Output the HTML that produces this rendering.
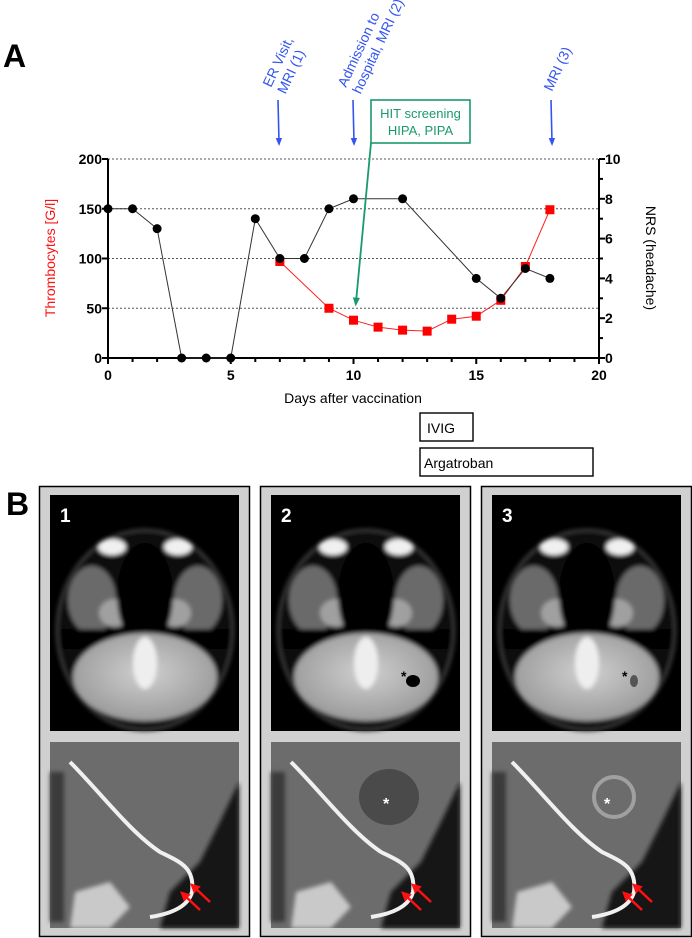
<!DOCTYPE html>
<html><head><meta charset="utf-8"><style>
html,body{margin:0;padding:0;background:#fff;}
svg{display:block;font-family:"Liberation Sans",Arial,sans-serif;}
</style></head><body>
<svg id="fig" width="692" height="938" viewBox="0 0 692 938">
<defs>
<marker id="ab" viewBox="0 0 10 10" refX="5" refY="5" markerWidth="5" markerHeight="5" orient="auto"><path d="M0,1 L10,5 L0,9 z" fill="#3355ee"/></marker>
<marker id="ag" viewBox="0 0 10 10" refX="5" refY="5" markerWidth="5" markerHeight="5" orient="auto"><path d="M0,1 L10,5 L0,9 z" fill="#1a9a6a"/></marker>
<marker id="ar" viewBox="0 0 10 10" refX="6" refY="5" markerWidth="4" markerHeight="4" orient="auto"><path d="M0,0 L10,5 L0,10 z" fill="#ff1010"/></marker>
<radialGradient id="cb" cx="50%" cy="45%" r="55%"><stop offset="0" stop-color="#d0d0d0"/><stop offset="1" stop-color="#9a9a9a"/></radialGradient>
<filter id="bl"><feGaussianBlur stdDeviation="2"/></filter>
</defs>
<text x="3" y="67" font-size="32" font-weight="bold">A</text>
<text x="6" y="515" font-size="32" font-weight="bold">B</text>
<g id="chart"></g>
<g id="annot">
  <text transform="translate(271,88) rotate(-65)" font-size="14" fill="#3355ee"><tspan x="0" y="0">ER Visit,</tspan><tspan x="0" y="16">MRI (1)</tspan></text>
  <text transform="translate(346,88) rotate(-65)" font-size="14" fill="#3355ee"><tspan x="0" y="0">Admission to</tspan><tspan x="0" y="16">hospital, MRI (2)</tspan></text>
  <text transform="translate(552,92) rotate(-65)" font-size="14" fill="#3355ee">MRI (3)</text>
  <line x1="278" y1="100" x2="279" y2="142" stroke="#3355ee" stroke-width="1.6" marker-end="url(#ab)"/>
  <line x1="353" y1="100" x2="354" y2="142" stroke="#3355ee" stroke-width="1.6" marker-end="url(#ab)"/>
  <line x1="551" y1="100" x2="552" y2="142" stroke="#3355ee" stroke-width="1.6" marker-end="url(#ab)"/>
  <rect x="371" y="100" width="99" height="43" fill="#fff" stroke="#1a9a6a" stroke-width="1.6"/>
  <text x="420.5" y="118" font-size="13" fill="#1a9a6a" text-anchor="middle">HIT screening</text>
  <text x="420.5" y="135" font-size="13" fill="#1a9a6a" text-anchor="middle">HIPA, PIPA</text>
  <line x1="371" y1="143" x2="356" y2="302" stroke="#1a9a6a" stroke-width="1.8" marker-end="url(#ag)"/>
  <rect x="420" y="413" width="53" height="28" fill="#fff" stroke="#000" stroke-width="1.4"/>
  <text x="427" y="433" font-size="14">IVIG</text>
  <rect x="420" y="448" width="173" height="28" fill="#fff" stroke="#000" stroke-width="1.4"/>
  <text x="424" y="468" font-size="14">Argatroban</text>
</g>
<g id="mri"></g>
</svg>
<script>
const days = [0,1,2,3,4,5,6,7,8,9,10,12,15,16,17,18];
const nrs = [7.5,7.5,6.5,0,0,0,7,5,5,7.5,8,8,4,3,4.5,4];
const thrDays = [7,9,10,11,12,13,14,15,16,17,18];
const thrombo = [97,50,38,31,28,27,39,42,58,92,149];
const xTicks = [0,5,10,15,20];
const leftTicks = [0,50,100,150,200];
const rightTicks = [0,2,4,6,8,10];

const NS="http://www.w3.org/2000/svg";
const X0=108,X1=599,Y0=358,Y1=159;
const xs=d=>X0+(d/20)*(X1-X0);
const yl=v=>Y0-(v/200)*(Y0-Y1);
const yr=v=>Y0-(v/10)*(Y0-Y1);
function mk(tag,attrs,parent){const e=document.createElementNS(NS,tag);for(const k in attrs)e.setAttribute(k,attrs[k]);parent.appendChild(e);return e;}
const ch=document.getElementById('chart');

leftTicks.forEach(v=>{ if(v>0){
  const g=mk('line',{x1:X0,x2:X1,y1:yl(v),y2:yl(v),stroke:'#555','stroke-width':1,'stroke-dasharray':'2,2'},ch);
  
  }
  const t=mk('line',{x1:X0-6,x2:X0,y1:yl(v),y2:yl(v),stroke:'#000','stroke-width':2},ch);
  
  
  const l=mk('text',{x:X0-6,y:yl(v)+5,'font-size':14,'font-weight':'bold','text-anchor':'end'},ch);l.textContent=v;
  
  
});
for(let v=0;v<=10;v++){
  const t=mk('line',{x1:X1,x2:X1+(v%2?4:6),y1:yr(v),y2:yr(v),stroke:'#000','stroke-width':2},ch);
  
  
}
rightTicks.forEach(v=>{
  const l=mk('text',{x:X1+6,y:yr(v)+5,'font-size':14,'font-weight':'bold'},ch);l.textContent=v;
  
  
});
for(let d=0;d<=20;d++){
  const t=mk('line',{x1:xs(d),x2:xs(d),y1:Y0,y2:Y0+(d%5?4:6),stroke:'#000','stroke-width':2},ch);
  
  
}
xTicks.forEach(v=>{
  const l=mk('text',{x:xs(v),y:Y0+22,'font-size':14,'font-weight':'bold','text-anchor':'middle'},ch);l.textContent=v;
  
  
});
let a=mk('line',{x1:X0,x2:X0,y1:Y1,y2:Y0+1,stroke:'#000','stroke-width':2},ch);


a=mk('line',{x1:X1,x2:X1,y1:Y1,y2:Y0+1,stroke:'#000','stroke-width':2},ch);


a=mk('line',{x1:X0-1,x2:X1+1,y1:Y0,y2:Y0,stroke:'#000','stroke-width':2},ch);


let tt=mk('text',{x:353,y:403,'font-size':14,'text-anchor':'middle'},ch);tt.textContent='Days after vaccination';


tt=mk('text',{transform:'translate(55,258) rotate(-90)','font-size':14,fill:'#ff1010','text-anchor':'middle'},ch);tt.textContent='Thrombocytes [G/l]';


tt=mk('text',{transform:'translate(646,258) rotate(90)','font-size':14,'text-anchor':'middle'},ch);tt.textContent='NRS (headache)';



let p=mk('polyline',{points:thrDays.map((d,i)=>xs(d)+','+yl(thrombo[i])).join(' '),fill:'none',stroke:'#ff2020','stroke-width':1},ch);


p=mk('polyline',{points:days.map((d,i)=>xs(d)+','+yr(nrs[i])).join(' '),fill:'none',stroke:'#333','stroke-width':1},ch);


thrDays.forEach((d,i)=>{
  const r=mk('rect',{x:xs(d)-4.5,y:yl(thrombo[i])-4.5,width:9,height:9,fill:'#ff0000'},ch);
  
  
});
days.forEach((d,i)=>{
  const c=mk('circle',{cx:xs(d),cy:yr(nrs[i]),r:4.5,fill:'#000'},ch);
  
  
});

// MRI panels (illustrative)
const mr=document.getElementById('mri');
[39,260,481].forEach((ox,k)=>{
  const g=mk('g',{transform:`translate(${ox},486)`},mr);
  
  
  mk('rect',{x:0.5,y:0.5,width:210,height:450,fill:'#d0d0d0',stroke:'#000','stroke-width':1.5},g);
  const t=mk('g',{transform:'translate(11,9)'},g);
  mk('rect',{x:0,y:0,width:189,height:236,fill:'#000'},t);
  const hg=mk('g',{filter:'url(#bl)'},t);
  mk('ellipse',{cx:95,cy:135,rx:88,ry:100,fill:'#080808',stroke:'#3a3a3a','stroke-width':3},hg);
  mk('ellipse',{cx:42,cy:105,rx:24,ry:34,fill:'#6a6a6a'},hg);
  mk('ellipse',{cx:148,cy:105,rx:24,ry:34,fill:'#6a6a6a'},hg);
  mk('ellipse',{cx:65,cy:118,rx:16,ry:14,fill:'#a0a0a0'},hg);
  mk('ellipse',{cx:125,cy:118,rx:16,ry:14,fill:'#a0a0a0'},hg);
  mk('ellipse',{cx:95,cy:100,rx:28,ry:52,fill:'#050505'},hg);
  mk('rect',{x:10,y:134,width:170,height:20,fill:'#060606'},hg);
  mk('ellipse',{cx:95,cy:182,rx:72,ry:44,fill:'url(#cb)'},hg);
  mk('ellipse',{cx:95,cy:168,rx:12,ry:26,fill:'#eeeeee'},hg);
  mk('ellipse',{cx:62,cy:52,rx:14,ry:8,fill:'#f0f0f0'},hg);
  mk('ellipse',{cx:128,cy:52,rx:14,ry:8,fill:'#f0f0f0'},hg);
  if(k>0){mk('ellipse',{cx:142,cy:186,rx:k==1?7:4,ry:6,fill:k==1?'#000':'#555'},t);
    const s=mk('text',{x:130,y:186,'font-size':14,'font-weight':'bold',fill:'#000'},t);s.textContent='*';
    
    }
  const n=mk('text',{x:10,y:27,'font-size':19,'font-weight':'bold',fill:'#fff'},t);n.textContent=String(k+1);
  
  
  const b=mk('g',{transform:'translate(11,256)'},g);
  mk('rect',{x:0,y:0,width:189,height:186,fill:'#6c6c6c'},b);
  const bg=mk('g',{filter:'url(#bl)'},b);
  mk('path',{d:'M189,40 L189,186 L110,186 L120,150 L150,120 L170,80 Z',fill:'#141414'},bg);
  mk('rect',{x:0,y:30,width:14,height:150,fill:'#3a3a3a'},bg);
  mk('path',{d:'M25,150 L60,140 L80,165 L60,186 L20,186 Z',fill:'#e0e0e0',opacity:0.8},bg);
  mk('path',{d:'M20,20 C50,50 80,90 110,110 C130,120 145,125 142,150 C138,165 120,172 100,175',fill:'none',stroke:'#f0f0f0','stroke-width':4},b);
  if(k>0){
    if(k==2) mk('ellipse',{cx:122,cy:55,rx:20,ry:20,fill:'none',stroke:'#a0a0a0','stroke-width':4},b);
    else mk('ellipse',{cx:118,cy:55,rx:30,ry:28,fill:'#4a4a4a'},b);
    const s=mk('text',{x:112,y:67,'font-size':16,'font-weight':'bold',fill:'#fff'},b);s.textContent='*';
    
    }
  const r1=mk('line',{x1:150,y1:168,x2:133,y2:152,stroke:'#ff1010','stroke-width':2.5,'marker-end':'url(#ar)'},b);
  
  
  const r2=mk('line',{x1:160,y1:160,x2:143,y2:144,stroke:'#ff1010','stroke-width':2.5,'marker-end':'url(#ar)'},b);
  
  
});
</script>
</body></html>
